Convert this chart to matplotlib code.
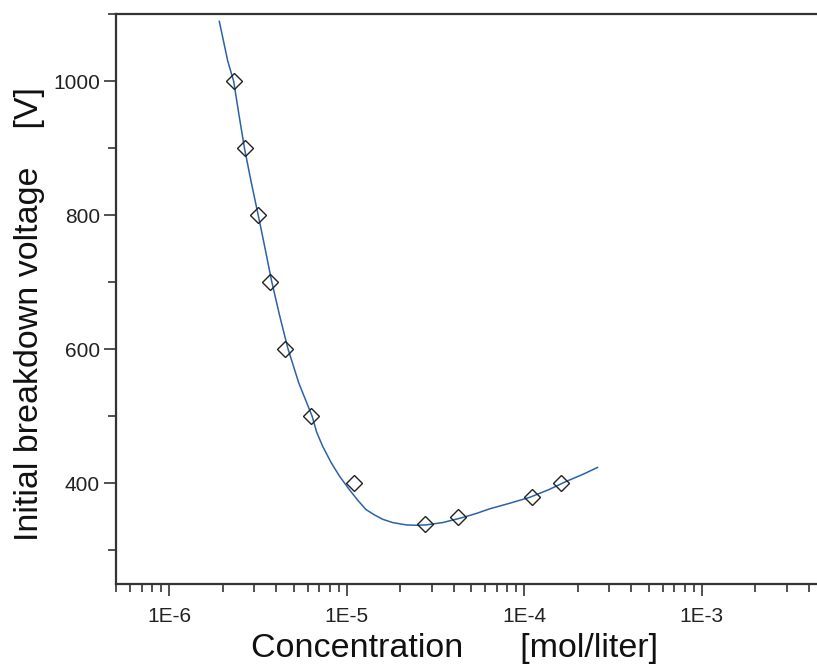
import math
import matplotlib
matplotlib.use("Agg")
import matplotlib.pyplot as plt
from matplotlib.ticker import LogLocator, FixedLocator, NullFormatter, FuncFormatter

plt.rcParams['font.family'] = ['Liberation Sans', 'DejaVu Sans']

# measured points (concentration [mol/liter], voltage [V])
conc = [2.30e-6, 2.65e-6, 3.17e-6, 3.71e-6, 4.45e-6, 6.31e-6,
        1.09e-5, 2.74e-5, 4.25e-5, 1.11e-4, 1.60e-4]
volt = [1000, 900, 800, 700, 600, 500, 400, 340, 350, 380, 400]

# fitted curve
fit_conc = [1.91e-6, 2.13e-6, 2.30e-6, 2.46e-6, 2.65e-6, 2.89e-6, 3.17e-6,
            3.46e-6, 3.77e-6, 4.17e-6, 4.64e-6, 5.35e-6, 6.37e-6, 6.76e-6,
            7.31e-6, 8.15e-6, 9.07e-6, 1.03e-5, 1.15e-5, 1.28e-5, 1.43e-5,
            1.59e-5, 1.81e-5, 2.16e-5, 2.45e-5, 2.79e-5, 3.46e-5, 4.49e-5,
            5.40e-5, 6.35e-5, 8.23e-5, 1.07e-4, 1.38e-4, 1.72e-4, 2.13e-4,
            2.58e-4]
fit_volt = [1089, 1030, 1000, 951, 899, 849, 799,
            750, 701, 651, 602, 550, 500, 476,
            455, 431, 411, 391, 375, 361, 353,
            346.5, 341.6, 338.1, 337.6, 338.1, 341.6, 349.1,
            355.5, 362.0, 370.3, 379.2, 391, 403, 413.4,
            423.8]

y_major = [400, 600, 800, 1000]
y_minor = [300, 500, 700, 900, 1100]

fig = plt.figure(figsize=(8.17, 6.64), dpi=100)
ax = fig.add_axes([116 / 817, 1 - 584 / 664, 710 / 817, 570 / 664])

ax.plot(fit_conc, fit_volt, color='#2a62aa', lw=1.1, zorder=2)
ax.plot(conc, volt, ls='none', marker='D', ms=8.5, mfc='none',
        mec='#222222', mew=1.0, zorder=3)

ax.set_xscale('log')
ax.set_xlim(5e-7, 5e-3)
ax.set_ylim(250, 1100)

ax.xaxis.set_major_locator(LogLocator(base=10, numticks=10))
ax.xaxis.set_minor_locator(LogLocator(base=10, subs=range(2, 10), numticks=20))
ax.xaxis.set_major_formatter(FuncFormatter(lambda v, p: '1E%d' % round(math.log10(v))))
ax.xaxis.set_minor_formatter(NullFormatter())

ax.yaxis.set_major_locator(FixedLocator(y_major))
ax.yaxis.set_minor_locator(FixedLocator(y_minor))

for s in ['left', 'bottom', 'top']:
    ax.spines[s].set_linewidth(1.6)
    ax.spines[s].set_color('#333333')
ax.spines['right'].set_visible(False)

ax.tick_params(which='major', direction='out', length=8.5, width=1.2,
               color='#333333', labelsize=15, labelcolor='#222222')
ax.tick_params(which='minor', direction='out', length=5.5, width=1.2,
               color='#333333')
ax.tick_params(axis='x', which='major', pad=8)
ax.tick_params(axis='y', which='major', pad=3)
ax.tick_params(top=False, right=False, which='both')

ax.set_xlabel('Concentration      [mol/liter]', fontsize=24.5, color='#111111',
              labelpad=5, x=0.477)
ax.set_ylabel('Initial breakdown voltage    [V]', fontsize=24.5, color='#111111',
              labelpad=6, y=0.474)

fig.savefig('out.png', dpi=100)
